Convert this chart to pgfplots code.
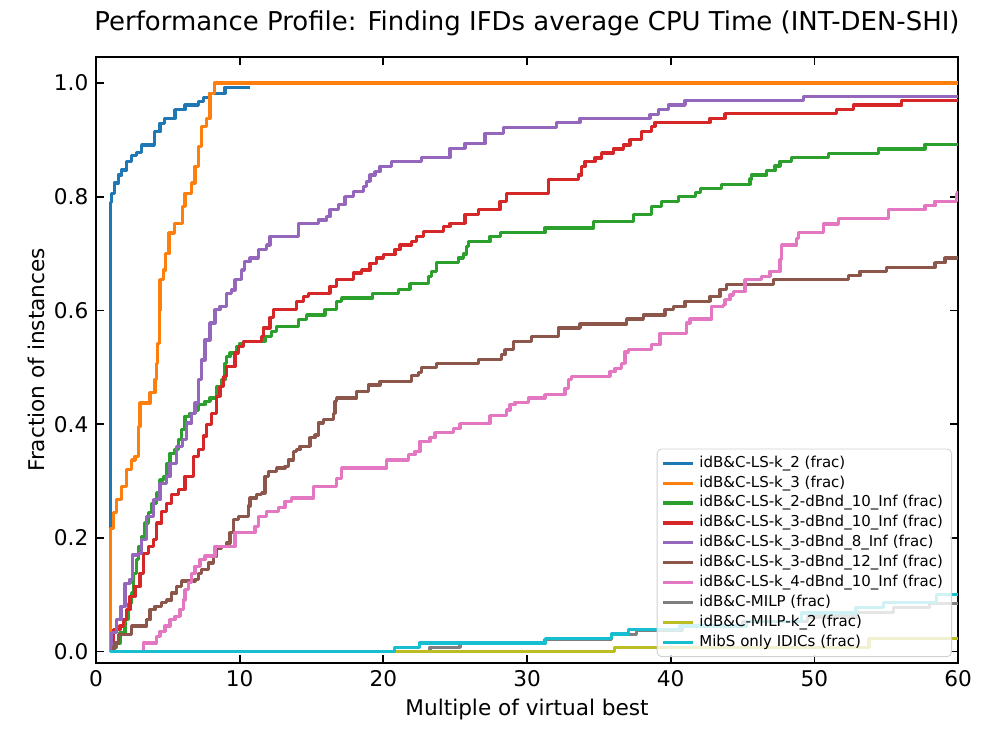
\documentclass[border=0pt]{standalone}
\usepackage{pgfplots}
\pgfplotsset{compat=1.18}
\usepackage{fontspec}
\setmainfont{DejaVu Sans}

\definecolor{c0}{HTML}{1F77B4}
\definecolor{c1}{HTML}{FF7F0E}
\definecolor{c2}{HTML}{2CA02C}
\definecolor{c3}{HTML}{D62728}
\definecolor{c4}{HTML}{9467BD}
\definecolor{c5}{HTML}{8C564B}
\definecolor{c6}{HTML}{E377C2}
\definecolor{c7}{HTML}{7F7F7F}
\definecolor{c8}{HTML}{BCBD22}
\definecolor{c9}{HTML}{17BECF}

\begin{document}
\begin{tikzpicture}
% bounding box: 996x747 px at 0.4625 pt/px, axis box at origin
\useasboundingbox (-44.40pt,-38.85pt) rectangle (416.25pt,306.64pt);
\begin{axis}[
    scale only axis,
    width=398.7pt, height=280.3pt,
    xmin=0, xmax=60, ymin=-0.02, ymax=1.0457,
    xtick={0,10,...,60},
    ytick={0,0.2,0.4,0.6,0.8,1.0},
    yticklabel style={/pgf/number format/.cd, fixed, fixed zerofill, precision=1},
    /pgf/number format/assume math mode=true,
    tick align=inside,
    major tick length=3.5pt,
    every tick/.style={black, line width=0.8pt},
    axis line style={line width=0.8pt},
    tick label style={font=\fontsize{10}{12}\selectfont},
    label style={font=\fontsize{10}{12}\selectfont},
    title style={font=\fontsize{12}{14}\selectfont, at={(axis description cs:0.5,1.0215)}, anchor=base},
    xlabel style={at={(axis description cs:0.5,-0.0858)}, anchor=base},
    ylabel style={at={(axis description cs:-0.0603,0.5)}, anchor=base},
    title={Performance Profile: Finding IFDs average CPU Time (INT-DEN-SHI)},
    xlabel={Multiple of virtual best},
    ylabel={Fraction of instances},
    every axis plot/.append style={const plot, line width=1.5pt, line join=round},
    legend image code/.code={\draw[#1] (0pt,0pt) -- (14pt,0pt);},
    legend cell align=left,
    legend style={at={(axis description cs:0.993,0.0099)}, anchor=south east,
        font=\fontsize{6.94}{8.3}\selectfont, draw=black!18, fill=white,
        fill opacity=0.8, text opacity=1, rounded corners=2pt,
        inner xsep=2pt, inner ysep=2pt, row sep=0pt,
        nodes={inner ysep=1.2pt, text height=5.2pt, text depth=1.6pt}},
]
% idB&C-LS-k_2
\addplot[c0] coordinates {
(1,0) (1,0.79) (1.09,0.806) (1.27,0.824) (1.55,0.838) (1.79,0.847) (2.13,0.862)
(2.48,0.873) (2.83,0.878) (3.18,0.891) (4.06,0.914) (4.45,0.929) (4.76,0.938)
(5.5,0.953) (6.2,0.961) (7.12,0.967) (7.47,0.975) (7.93,0.982) (8.98,0.992) (10.72,0.992)
};
\addlegendentry{idB\&C-LS-k\_2 (frac)}
% idB&C-LS-k_3
\addplot[c1] coordinates {
(1,0) (1,0.217) (1.2,0.244) (1.44,0.267) (1.79,0.29) (2.13,0.32) (2.48,0.337)
(2.71,0.343) (2.95,0.396) (3.06,0.437) (3.76,0.455) (4.1,0.478) (4.2,0.507)
(4.29,0.542) (4.4,0.6) (4.45,0.654) (4.69,0.671) (4.85,0.70) (5.08,0.736)
(5.45,0.753) (6.01,0.783) (6.2,0.806) (6.66,0.824) (6.89,0.853) (7.12,0.888)
(7.36,0.923) (7.7,0.938) (7.93,0.982) (8.24,1.0) (60,1.0)
};
\addlegendentry{idB\&C-LS-k\_3 (frac)}
% idB&C-LS-k_2-dBnd_10_Inf
\addplot[c2] coordinates {
(1,0) (1.3,0.008) (1.44,0.015) (1.67,0.033) (2.02,0.056) (2.25,0.085) (2.48,0.103)
(2.6,0.138) (2.83,0.162) (2.95,0.185) (3.18,0.203) (3.41,0.226) (3.64,0.244)
(3.87,0.261) (4.22,0.279) (4.45,0.302) (4.69,0.308) (4.92,0.331) (5.15,0.349)
(5.5,0.355) (5.73,0.373) (5.96,0.39) (6.2,0.414) (6.54,0.419) (6.89,0.425)
(7.12,0.434) (7.59,0.44) (7.93,0.446) (8.4,0.466) (8.74,0.478) (8.98,0.507)
(9.1,0.519) (9.33,0.525) (9.79,0.537) (10.02,0.542) (10.25,0.546) (11.76,0.554)
(12.23,0.563) (12.57,0.572) (14.08,0.584) (14.66,0.592) (15.94,0.601) (16.75,0.616)
(17.1,0.622) (19.26,0.63) (21.04,0.637) (21.86,0.647) (23.14,0.66) (23.37,0.669)
(23.71,0.684) (25.22,0.692) (25.57,0.699) (25.8,0.713) (25.92,0.721) (27.42,0.73)
(28.17,0.737) (31.25,0.745) (34.61,0.757) (37.4,0.768) (38.67,0.783) (39.37,0.792)
(40.53,0.8) (41.7,0.807) (42.05,0.815) (43.55,0.822) (45.52,0.831) (45.64,0.838)
(46.68,0.846) (47.26,0.854) (47.61,0.862) (48.42,0.869) (50.97,0.876) (54.45,0.884)
(57.7,0.892) (60,0.892)
};
\addlegendentry{idB\&C-LS-k\_2-dBnd\_10\_Inf (frac)}
% idB&C-LS-k_3-dBnd_10_Inf
\addplot[c3] coordinates {
(1,0) (1.2,0.039) (1.67,0.045) (1.9,0.056) (2.13,0.074) (2.37,0.097) (2.71,0.115)
(3.06,0.138) (3.29,0.173) (3.64,0.185) (3.99,0.197) (4.22,0.226) (4.57,0.247)
(4.92,0.261) (5.27,0.276) (5.73,0.285) (6.2,0.308) (6.77,0.343) (7.12,0.355)
(7.47,0.379) (7.7,0.399) (8.05,0.419) (8.4,0.449) (8.63,0.466) (8.86,0.484)
(9.1,0.501) (9.68,0.525) (9.91,0.537) (10.25,0.546) (11.53,0.554) (11.65,0.569)
(12.11,0.587) (12.34,0.601) (13.96,0.616) (14.43,0.625) (14.78,0.63) (16.29,0.642)
(16.75,0.654) (17.91,0.666) (18.49,0.671) (19.07,0.683) (19.54,0.692) (20.0,0.698)
(20.81,0.707) (21.16,0.715) (21.97,0.721) (22.32,0.73) (22.78,0.739) (24.17,0.748)
(24.64,0.753) (25.68,0.768) (26.61,0.777) (28.12,0.791) (28.58,0.806) (31.48,0.83)
(33.57,0.838) (33.8,0.853) (34.03,0.862) (34.73,0.868) (35.19,0.877) (36.0,0.884)
(36.7,0.891) (37.17,0.9) (37.98,0.915) (38.67,0.924) (38.9,0.931) (42.74,0.938)
(43.78,0.946) (51.55,0.953) (52.71,0.961) (56.08,0.969) (60,0.969)
};
\addlegendentry{idB\&C-LS-k\_3-dBnd\_10\_Inf (frac)}
% idB&C-LS-k_3-dBnd_8_Inf
\addplot[c4] coordinates {
(1,0) (1.09,0.033) (1.44,0.056) (1.74,0.08) (2.02,0.12) (2.37,0.127) (2.53,0.17)
(2.95,0.173) (3.18,0.197) (3.53,0.238) (3.99,0.267) (4.45,0.296) (4.92,0.308)
(5.15,0.331) (5.62,0.361) (6.01,0.373) (6.31,0.402) (6.66,0.419) (6.89,0.437)
(7.12,0.478) (7.36,0.513) (7.59,0.548) (7.93,0.578) (8.28,0.601) (8.63,0.607)
(9.1,0.63) (9.45,0.636) (9.68,0.654) (10.14,0.671) (10.33,0.686) (10.72,0.692)
(11.3,0.707) (11.88,0.715) (12.11,0.73) (14.08,0.753) (15.47,0.759) (16.06,0.765)
(16.29,0.777) (16.87,0.786) (17.33,0.8) (17.91,0.809) (18.61,0.818) (18.84,0.827)
(19.07,0.838) (19.42,0.844) (19.77,0.853) (20.58,0.862) (22.67,0.869) (24.64,0.885)
(25.68,0.893) (27.07,0.911) (28.35,0.922) (32.06,0.931) (33.69,0.938) (38.56,0.944)
(39.14,0.953) (39.84,0.961) (41.0,0.969) (49.23,0.976) (60,0.976)
};
\addlegendentry{idB\&C-LS-k\_3-dBnd\_8\_Inf (frac)}
% idB&C-LS-k_3-dBnd_12_Inf
\addplot[c5] coordinates {
(1,0) (1.2,0.008) (1.32,0.015) (1.55,0.03) (2.48,0.045) (3.53,0.056) (3.76,0.074)
(4.11,0.08) (4.57,0.086) (4.92,0.091) (5.27,0.103) (5.62,0.115) (5.96,0.124)
(6.89,0.127) (7.12,0.138) (7.36,0.144) (7.82,0.156) (8.17,0.168) (8.4,0.182)
(8.74,0.185) (9.1,0.191) (9.33,0.209) (9.56,0.232) (9.91,0.238) (10.6,0.256)
(10.72,0.27) (11.18,0.276) (11.53,0.279) (11.76,0.308) (12.0,0.317) (12.57,0.323)
(13.15,0.326) (13.38,0.337) (13.73,0.352) (13.96,0.355) (14.2,0.361) (14.9,0.376)
(15.24,0.381) (15.47,0.402) (15.82,0.408) (16.52,0.419) (16.64,0.44) (16.75,0.446)
(18.14,0.458) (18.96,0.469) (19.77,0.475) (21.97,0.485) (22.43,0.491) (22.67,0.5)
(23.71,0.507) (26.61,0.514) (28.23,0.522) (28.47,0.531) (29.04,0.546) (30.33,0.554)
(32.18,0.569) (33.69,0.576) (36.93,0.585) (38.1,0.592) (39.6,0.601) (40.19,0.607)
(41.0,0.616) (42.74,0.625) (43.43,0.637) (43.9,0.645) (47.14,0.654) (52.36,0.661)
(53.18,0.669) (55.03,0.676) (58.4,0.684) (59.09,0.692) (60,0.692)
};
\addlegendentry{idB\&C-LS-k\_3-dBnd\_12\_Inf (frac)}
% idB&C-LS-k_4-dBnd_10_Inf
\addplot[c6] coordinates {
(1,0) (3.29,0.015) (4.22,0.027) (4.45,0.036) (4.8,0.045) (5.15,0.056) (5.5,0.062)
(5.85,0.074) (6.08,0.091) (6.2,0.109) (6.43,0.121) (6.66,0.138) (6.89,0.15)
(7.24,0.162) (7.59,0.168) (8.28,0.185) (9.68,0.209) (11.07,0.22) (11.3,0.238)
(11.88,0.247) (12.69,0.253) (13.15,0.264) (13.62,0.27) (15.12,0.29) (16.75,0.305)
(17.1,0.323) (20.23,0.337) (21.74,0.346) (22.2,0.352) (22.55,0.37) (23.25,0.376)
(23.6,0.385) (24.87,0.393) (25.34,0.401) (27.42,0.415) (28.58,0.425) (28.82,0.434)
(29.16,0.438) (30.09,0.446) (31.25,0.452) (32.64,0.463) (32.88,0.478) (33.1,0.484)
(35.77,0.492) (36.12,0.498) (36.59,0.507) (36.82,0.527) (37.05,0.531) (38.67,0.54)
(39.26,0.56) (41.12,0.578) (41.35,0.585) (42.86,0.607) (43.66,0.61) (43.78,0.619)
(44.13,0.627) (44.36,0.633) (45.17,0.654) (46.33,0.66) (46.91,0.669) (47.61,0.689)
(47.72,0.715) (48.77,0.727) (48.89,0.737) (50.63,0.752) (51.67,0.762) (55.15,0.777)
(57.7,0.784) (58.4,0.792) (59.9,0.806) (60,0.81)
};
\addlegendentry{idB\&C-LS-k\_4-dBnd\_10\_Inf (frac)}
% idB&C-MILP
\addplot[c7] coordinates {
(1,0) (23.25,0.0076) (25.34,0.015) (31.2,0.021) (35.86,0.03) (37.6,0.037)
(40.8,0.045) (45,0.053) (49.5,0.061) (53,0.069) (55.5,0.077) (58,0.085) (60,0.085)
};
\addlegendentry{idB\&C-MILP (frac)}
% idB&C-MILP-k_2
\addplot[c8] coordinates {
(1,0) (36.1,0.0076) (53.8,0.023) (60,0.023)
};
\addlegendentry{idB\&C-MILP-k\_2 (frac)}
% MibS only IDICs
\addplot[c9] coordinates {
(1,0) (20.8,0.0076) (22.5,0.015) (31.3,0.023) (35.9,0.031) (37.05,0.039)
(40.65,0.045) (45.3,0.053) (49.1,0.068) (52.9,0.077) (54.8,0.086) (58.5,0.1) (60,0.1)
};
\addlegendentry{MibS only IDICs (frac)}
\end{axis}
\end{tikzpicture}
\end{document}
